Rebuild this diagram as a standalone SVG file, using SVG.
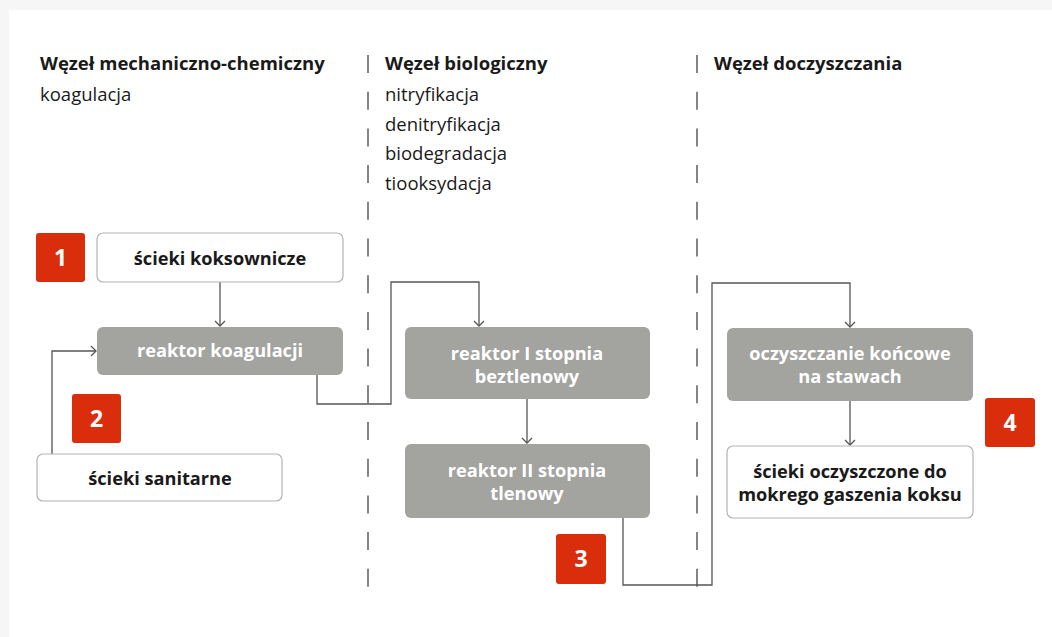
<svg xmlns="http://www.w3.org/2000/svg" width="1052" height="637" viewBox="0 0 1052 637">
  <defs>
    <marker id="arr" markerWidth="12" markerHeight="12" refX="6" refY="6" orient="auto" markerUnits="userSpaceOnUse">
      <path d="M1,1 L6,6 L1,11" fill="none" stroke="#555" stroke-width="1.3"/>
    </marker>
    <style>
      .h { font-family: "Open Sans", "Noto Sans", sans-serif; font-weight: 700; font-size: 18.5px; fill: #1a1a1a; }
      .t { font-family: "Open Sans", "Noto Sans", sans-serif; font-weight: 400; font-size: 18.5px; fill: #1a1a1a; }
      .lab { font-family: "Open Sans", "Noto Sans", sans-serif; font-weight: 700; font-size: 18.2px; text-anchor: middle; }
      .dark { fill: #1a1a1a; }
      .light { fill: #ffffff; }
      .white { fill: #ffffff; stroke: #b3b3b3; stroke-width: 1.2; }
      .gray { fill: #a3a3a0; }
      .badge { fill: #da2d0c; }
      .num { font-family: "Open Sans", "Noto Sans", sans-serif; font-weight: 700; font-size: 23px; fill: #ffffff; text-anchor: middle; }
      .sep { stroke: #444; stroke-width: 1.3; stroke-dasharray: 18 18.7; fill: none; }
      .wire { stroke: #555; stroke-width: 1.3; fill: none; }
    </style>
  </defs>

  <!-- page -->
  <rect x="0" y="0" width="1052" height="637" fill="#f6f6f6"/>
  <rect x="9" y="10" width="1043" height="627" fill="#ffffff"/>

  <!-- column separators -->
  <g id="separators">
    <line class="sep" x1="368" y1="55" x2="368" y2="587"/>
    <line class="sep" x1="697" y1="55" x2="697" y2="587"/>
  </g>

  <!-- column headings -->
  <g id="col-mech">
    <text class="h" x="40" y="70">Węzeł mechaniczno-chemiczny</text>
    <text class="t" x="40" y="101">koagulacja</text>
  </g>
  <g id="col-bio">
    <text class="h" x="385" y="70">Węzeł biologiczny</text>
    <text class="t" x="385" y="101">nitryfikacja</text>
    <text class="t" x="385" y="131">denitryfikacja</text>
    <text class="t" x="385" y="160">biodegradacja</text>
    <text class="t" x="385" y="190">tiooksydacja</text>
  </g>
  <g id="col-post">
    <text class="h" x="714" y="70">Węzeł doczyszczania</text>
  </g>

  <!-- connectors -->
  <g id="connectors">
    <path class="wire" d="M220,282 V326" marker-end="url(#arr)"/>
    <path class="wire" d="M52,454 V351 H96" marker-end="url(#arr)"/>
    <path class="wire" d="M317,375 V404 H391 V282 H479 V326" marker-end="url(#arr)"/>
    <path class="wire" d="M527,399 V443" marker-end="url(#arr)"/>
    <path class="wire" d="M623,518 V585 H712 V283 H850 V327" marker-end="url(#arr)"/>
    <path class="wire" d="M850,401 V445" marker-end="url(#arr)"/>
  </g>

  <!-- nodes -->
  <g id="badge-1">
    <rect class="badge" x="36" y="233" width="49" height="49" rx="3"/>
    <text class="num" x="60.5" y="266">1</text>
  </g>
  <g id="scieki-koksownicze">
    <rect class="white" x="97" y="233" width="246" height="49" rx="6"/>
    <text class="lab dark" x="220" y="265">ścieki koksownicze</text>
  </g>
  <g id="reaktor-koagulacji">
    <rect class="gray" x="97" y="327" width="246" height="48" rx="6"/>
    <text class="lab light" x="220" y="357">reaktor koagulacji</text>
  </g>
  <g id="badge-2">
    <rect class="badge" x="72" y="394" width="49" height="49" rx="3"/>
    <text class="num" x="96.5" y="427">2</text>
  </g>
  <g id="scieki-sanitarne">
    <rect class="white" x="37" y="454" width="245" height="47" rx="6"/>
    <text class="lab dark" x="160" y="485">ścieki sanitarne</text>
  </g>
  <g id="reaktor-1">
    <rect class="gray" x="405" y="327" width="245" height="72" rx="6"/>
    <text class="lab light" x="527" y="360">reaktor I stopnia</text>
    <text class="lab light" x="527" y="383">beztlenowy</text>
  </g>
  <g id="reaktor-2">
    <rect class="gray" x="405" y="444" width="245" height="74" rx="6"/>
    <text class="lab light" x="527" y="477">reaktor II stopnia</text>
    <text class="lab light" x="527" y="500">tlenowy</text>
  </g>
  <g id="badge-3">
    <rect class="badge" x="556" y="534" width="50" height="50" rx="3"/>
    <text class="num" x="581" y="567">3</text>
  </g>
  <g id="oczyszczanie-koncowe">
    <rect class="gray" x="727" y="328" width="246" height="73" rx="6"/>
    <text class="lab light" x="850" y="360">oczyszczanie końcowe</text>
    <text class="lab light" x="850" y="383">na stawach</text>
  </g>
  <g id="scieki-oczyszczone">
    <rect class="white" x="727" y="446" width="246" height="72" rx="6"/>
    <text class="lab dark" x="850" y="478">ścieki oczyszczone do</text>
    <text class="lab dark" x="850" y="501">mokrego gaszenia koksu</text>
  </g>
  <g id="badge-4">
    <rect class="badge" x="985" y="398" width="50" height="49" rx="3"/>
    <text class="num" x="1010" y="431">4</text>
  </g>
</svg>
